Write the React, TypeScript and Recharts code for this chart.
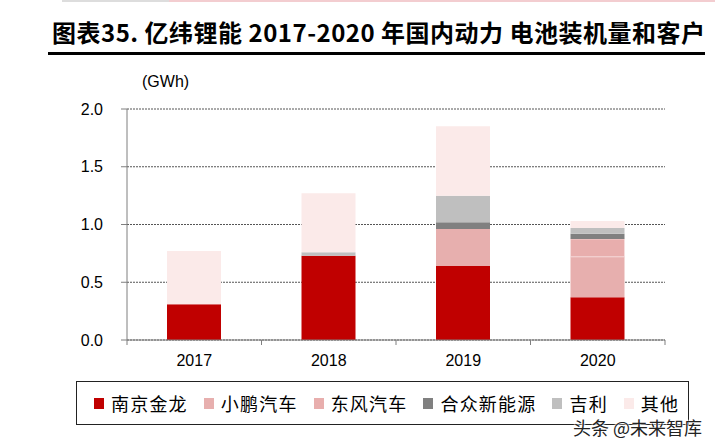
import React from 'react';
import { BarChart, Bar, XAxis, YAxis, CartesianGrid } from 'recharts';

const years = ['2017', '2018', '2019', '2020'];
const jinlong = [0.31, 0.73, 0.64, 0.37];
const xpeng = [0, 0, 0.32, 0.35];
const dongfeng = [0, 0, 0, 0.155];
const hozon = [0, 0, 0.06, 0.045];
const geely = [0, 0.03, 0.23, 0.05];
const others = [0.46, 0.51, 0.6, 0.06];
const yTicks = [0, 0.5, 1, 1.5, 2];

const series = [
  { key: 'jinlong', name: '南京金龙', color: '#C00000', values: jinlong },
  { key: 'xpeng', name: '小鹏汽车', color: '#E7AFAE', values: xpeng },
  { key: 'dongfeng', name: '东风汽车', color: '#E8AEAD', values: dongfeng },
  { key: 'hozon', name: '合众新能源', color: '#808080', values: hozon },
  { key: 'geely', name: '吉利', color: '#BFBFBF', values: geely },
  { key: 'others', name: '其他', color: '#FBEAE9', values: others },
];

const data = years.map((year, i) => {
  const row: Record<string, string | number> = { year };
  series.forEach((s) => {
    row[s.key] = s.values[i];
  });
  return row;
});

const AXIS = '#7f7f7f';
const TEXT_FONT = "'Liberation Sans', Arial, sans-serif";
const CJK_FONT = "'Noto Sans CJK SC', sans-serif";
const X_TICK_SIZE = 6;
const X_TICK_MARGIN = 9;

// year label, plus the small marks on the axis between the categories
function renderYearTick(props: any) {
  const { x, y, payload, index, visibleTicksCount } = props;
  const off = payload && typeof payload.offset === 'number' ? payload.offset : 0;
  const axisY = y - X_TICK_SIZE - X_TICK_MARGIN;
  return (
    <g key={`yt-${index}`}>
      {off > 0 && <line x1={x - off} x2={x - off} y1={axisY} y2={axisY + 5} stroke={AXIS} />}
      {off > 0 && index === visibleTicksCount - 1 && (
        <line x1={x + off} x2={x + off} y1={axisY} y2={axisY + 5} stroke={AXIS} />
      )}
      <text x={x} y={y} dy="0.71em" textAnchor="middle" fill="#000" fontFamily={TEXT_FONT} fontSize={16}>
        {payload.value}
      </text>
    </g>
  );
}

function LegendBox() {
  return (
    <div
      style={{
        position: 'absolute',
        left: 76,
        top: 381,
        width: 594,
        height: 42,
        border: '1px solid #222',
        display: 'flex',
        alignItems: 'center',
        paddingLeft: 17,
        boxSizing: 'content-box',
        whiteSpace: 'nowrap',
      }}
    >
      {series.map((s) => (
        <div key={s.key} style={{ display: 'flex', alignItems: 'center', marginRight: 16, flexShrink: 0 }}>
          <span style={{ width: 10, height: 11, background: s.color, marginRight: 7, display: 'inline-block' }} />
          <span style={{ fontFamily: CJK_FONT, fontSize: 18, letterSpacing: 1.2, color: '#000', lineHeight: '18px' }}>
            {s.name}
          </span>
        </div>
      ))}
    </div>
  );
}

export default function App() {
  return (
    <div style={{ position: 'absolute', left: 0, top: 0, width: 715, height: 444, background: '#fff', overflow: 'hidden' }}>
      <div style={{ position: 'absolute', left: 62, top: 0, width: 107, height: 2, background: '#ddd' }} />
      <div style={{ position: 'absolute', left: 169, top: 0, width: 546, height: 2, background: '#f3cdd0' }} />
      <div
        style={{
          position: 'absolute',
          left: 52,
          top: 17,
          height: 30,
          lineHeight: '30px',
          fontSize: 24,
          fontWeight: 700,
          letterSpacing: 0.5,
          whiteSpace: 'nowrap',
          color: '#000',
          fontFamily: "'Liberation Sans Narrow', 'Noto Sans CJK SC', sans-serif",
        }}
      >
        图表35. 亿纬锂能 2017-2020 年国内动力 电池装机量和客户
      </div>
      <div style={{ position: 'absolute', left: 48, top: 52, width: 657, height: 3, background: '#000' }} />
      <div
        style={{
          position: 'absolute',
          left: 142,
          top: 72,
          fontSize: 16,
          lineHeight: '20px',
          fontFamily: TEXT_FONT,
          color: '#000',
        }}
      >
        (GWh)
      </div>

      <BarChart
        width={715}
        height={444}
        data={data}
        margin={{ top: 109, right: 50, bottom: 74, left: 67 }}
        barSize={54}
      >
        <CartesianGrid horizontal vertical={false} stroke="#555" strokeDasharray="2 1" />
        <XAxis
          dataKey="year"
          tickLine={false}
          tickSize={X_TICK_SIZE}
          tickMargin={X_TICK_MARGIN}
          axisLine={{ stroke: AXIS }}
          tick={renderYearTick}
          height={30}
          interval={0}
        />
        <YAxis
          width={60}
          domain={[0, 2]}
          ticks={yTicks}
          tickFormatter={(v: number) => v.toFixed(1)}
          tickSize={6}
          tickMargin={18}
          axisLine={{ stroke: AXIS }}
          tickLine={{ stroke: AXIS }}
          tick={{ fill: '#000', fontSize: 16, fontFamily: TEXT_FONT }}
        />
        {series.map((s) => (
          <Bar
            key={s.key}
            dataKey={s.key}
            name={s.name}
            stackId="a"
            fill={s.color}
            stroke={s.key === 'dongfeng' ? '#f6dede' : undefined}
            strokeWidth={s.key === 'dongfeng' ? 0.8 : 0}
            isAnimationActive={false}
          />
        ))}
      </BarChart>

      <LegendBox />
      <div
        style={{
          position: 'absolute',
          left: 573,
          top: 419,
          fontSize: 18,
          lineHeight: '17px',
          fontFamily: CJK_FONT,
          color: '#222',
          whiteSpace: 'nowrap',
          textShadow: '0 0 2px #fff, 0 0 2px #fff, 0 0 2px #fff',
        }}
      >
        头条 @未来智库
      </div>
    </div>
  );
}
